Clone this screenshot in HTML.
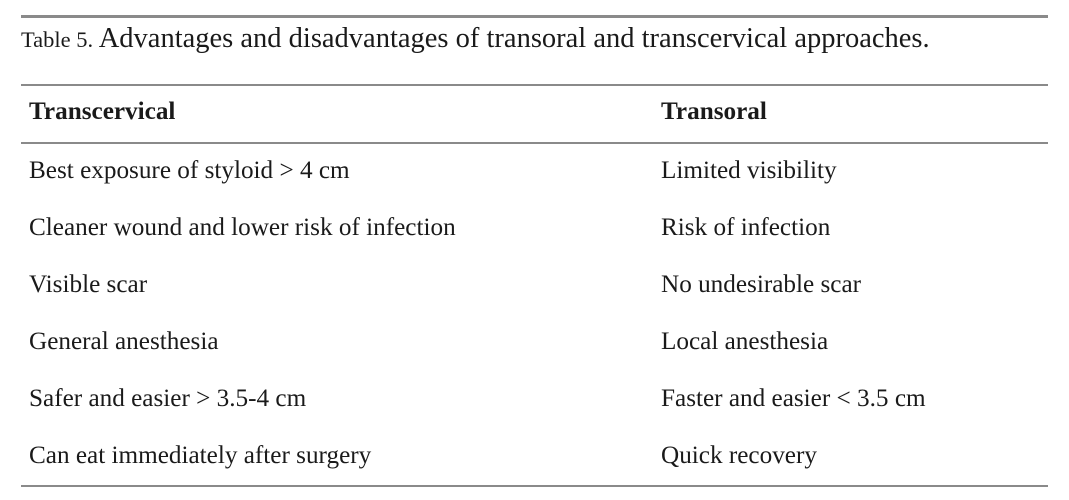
<!DOCTYPE html>
<html><head><meta charset="utf-8"><style>
body{margin:0;width:1069px;height:500px;background:#fff;position:relative;font-family:"Liberation Serif","DejaVu Serif",serif;color:#1a1a1a;overflow:hidden}
.l{position:absolute;left:21px;width:1027px;background:#8a8a8a}
.t{position:absolute;white-space:nowrap;line-height:1;font-size:25.2px}
</style></head><body>
<div class="l" style="top:15px;height:3px"></div>
<div class="l" style="top:84px;height:2px"></div>
<div class="l" style="top:142px;height:2px"></div>
<div class="l" style="top:485px;height:2px"></div>
<div class="t" style="left:21px;top:25px;font-size:28.5px"><span style="font-size:22.5px">Table 5.</span> Advantages and disadvantages of transoral and transcervical approaches.</div>
<div class="t" style="left:29px;top:99px;font-weight:bold">Transcervical</div>
<div class="t" style="left:661px;top:99px;font-weight:bold">Transoral</div>
<div class="t" style="left:29px;top:158px">Best exposure of styloid &gt; 4 cm</div>
<div class="t" style="left:661px;top:158px">Limited visibility</div>
<div class="t" style="left:29px;top:215px">Cleaner wound and lower risk of infection</div>
<div class="t" style="left:661px;top:215px">Risk of infection</div>
<div class="t" style="left:29px;top:272px">Visible scar</div>
<div class="t" style="left:661px;top:272px">No undesirable scar</div>
<div class="t" style="left:29px;top:329px">General anesthesia</div>
<div class="t" style="left:661px;top:329px">Local anesthesia</div>
<div class="t" style="left:29px;top:386px">Safer and easier &gt; 3.5-4 cm</div>
<div class="t" style="left:661px;top:386px">Faster and easier &lt; 3.5 cm</div>
<div class="t" style="left:29px;top:443px">Can eat immediately after surgery</div>
<div class="t" style="left:661px;top:443px">Quick recovery</div>
</body></html>
